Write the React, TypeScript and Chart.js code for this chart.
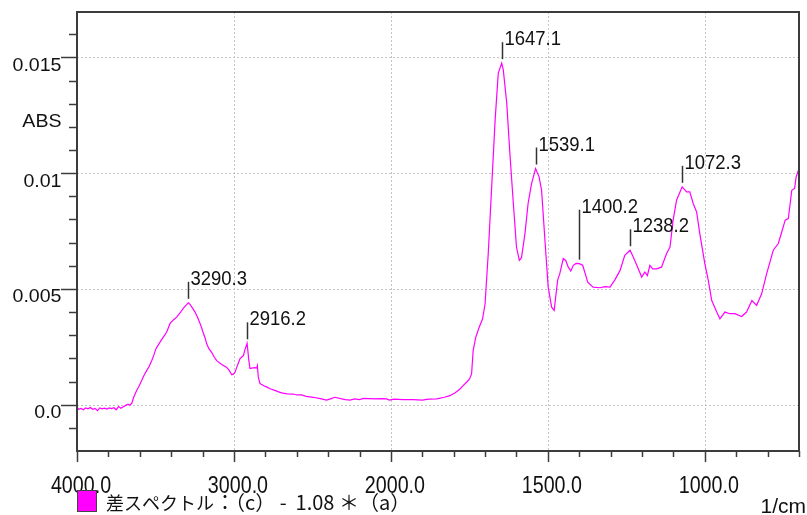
import React, { useEffect, useRef } from 'react';
import { Chart, registerables } from 'chart.js';

Chart.register(...registerables);

// ---- data (wavenumber in 1/cm, absorbance) ----
const WAVENUMBERS = [
  4000, 3990, 3975, 3960, 3945, 3930, 3915, 3900, 3885, 3870, 3855, 3840, 3825, 3810, 3795, 3780,
  3765, 3750, 3735, 3720, 3705, 3690, 3675, 3665, 3651, 3640, 3620, 3605, 3588, 3572, 3556, 3540,
  3524, 3510, 3497, 3484, 3471, 3450, 3429, 3407, 3386, 3365, 3345, 3323, 3305, 3290.3, 3280, 3265,
  3248, 3232, 3216, 3205, 3197, 3185, 3174, 3160, 3142, 3125, 3110, 3080, 3046, 3030, 3014, 3004,
  2993, 2975, 2961, 2950, 2940, 2930, 2916.2, 2905, 2898, 2880, 2866, 2855, 2851, 2845, 2834, 2810,
  2790, 2770, 2740, 2707, 2688, 2660, 2622, 2600, 2569, 2540, 2495, 2450, 2410, 2380, 2357, 2320,
  2290, 2261, 2230, 2200, 2176, 2140, 2100, 2060, 2027, 2010, 1990, 1960, 1929, 1900, 1880, 1854,
  1830, 1812, 1795, 1780, 1770, 1759, 1750, 1743, 1738, 1730, 1720, 1708, 1700, 1690, 1679, 1668,
  1658, 1647.1, 1642, 1631, 1621, 1610, 1600, 1591, 1584, 1573, 1563, 1552, 1539.1, 1528, 1520, 1510,
  1499, 1488, 1480, 1469, 1462, 1451, 1443, 1435, 1427, 1419, 1410, 1400.2, 1389, 1373, 1356, 1334,
  1318, 1302, 1286, 1270, 1255, 1238.2, 1228, 1212, 1201, 1191, 1183, 1175, 1166, 1154, 1138, 1122,
  1111, 1101, 1090, 1072.3, 1058, 1048, 1037, 1026, 1016, 1000, 989, 978, 962, 952, 936, 920,
  904, 883, 867, 850, 835, 819, 803, 782, 766, 755, 744, 734, 723, 714, 709, 700,
];
const ABSORBANCE = [
  -0.0001, -0.0002, -0.00016, -0.00022, -0.00014, -0.00018, -0.00012, -0.0002, -0.00016, -0.00026, -0.00014, -0.00018, -0.00015, -0.00019, -0.00014, -0.00017,
  -0.00013, -0.00022, -0.00008, -0.00015, -0.00009, -0.00003, 0.00002, -0.00002, 0.00006, 0.0003, 0.00061, 0.0008, 0.00104, 0.00128, 0.00147, 0.00166,
  0.0019, 0.00215, 0.00242, 0.00256, 0.0027, 0.00292, 0.00313, 0.00351, 0.00366, 0.00378, 0.00395, 0.00416, 0.0043, 0.0044, 0.00433, 0.00418,
  0.004, 0.00378, 0.00351, 0.0033, 0.00313, 0.0029, 0.00264, 0.00242, 0.00226, 0.00205, 0.0019, 0.00175, 0.00161, 0.00148, 0.00129, 0.00132,
  0.0014, 0.00175, 0.00199, 0.00206, 0.00212, 0.00238, 0.00265, 0.0019, 0.00156, 0.00159, 0.0016, 0.00158, 0.00168, 0.0012, 0.00091, 0.00082,
  0.00076, 0.00069, 0.00062, 0.00053, 0.0005, 0.00047, 0.00046, 0.00042, 0.00042, 0.00036, 0.00032, 0.00026, 0.0002, 0.00026, 0.00032, 0.00026,
  0.00022, 0.0002, 0.00025, 0.00022, 0.00027, 0.00026, 0.00025, 0.00026, 0.00025, 0.0002, 0.00024, 0.00022, 0.00022, 0.0002, 0.00024, 0.00025,
  0.00032, 0.00039, 0.00052, 0.00068, 0.00082, 0.00097, 0.0011, 0.00133, 0.00234, 0.0029, 0.0033, 0.00371, 0.00436, 0.00652, 0.00941, 0.0123,
  0.01432, 0.01475, 0.01446, 0.01302, 0.01085, 0.00869, 0.00681, 0.00623, 0.00635, 0.00739, 0.00869, 0.00955, 0.0102, 0.00984, 0.00926, 0.00724,
  0.00508, 0.00421, 0.00407, 0.00537, 0.00566, 0.00631, 0.00623, 0.00594, 0.00577, 0.00602, 0.0061, 0.00609, 0.00602, 0.00529, 0.00508, 0.00505,
  0.0051, 0.00508, 0.0054, 0.0058, 0.00645, 0.00667, 0.00638, 0.00587, 0.00551, 0.00573, 0.00558, 0.00602, 0.00587, 0.00587, 0.00594, 0.00652,
  0.00681, 0.00797, 0.00883, 0.00941, 0.00919, 0.00919, 0.00869, 0.00832, 0.00739, 0.00609, 0.00537, 0.0045, 0.004, 0.00371, 0.004, 0.00393,
  0.00393, 0.00381, 0.004, 0.0045, 0.00429, 0.00479, 0.00566, 0.00667, 0.00696, 0.00746, 0.00797, 0.00804, 0.00926, 0.00934, 0.00984, 0.0102,
];

const PEAKS = [3290.3, 2916.2, 1647.1, 1539.1, 1400.2, 1238.2, 1072.3];
const PEAK_LABELS = ['3290.3', '2916.2', '1647.1', '1539.1', '1400.2', '1238.2', '1072.3'];

const X_MAJOR = [4000, 3000, 2000, 1500, 1000];
const X_MAJOR_LABELS = ['4000.0', '3000.0', '2000.0', '1500.0', '1000.0'];
const X_MINOR = [3800, 3600, 3400, 3200, 2800, 2600, 2400, 2200, 1900, 1800, 1700, 1600, 1400, 1300, 1200, 1100, 900, 800, 700];
const Y_MAJOR = [0, 0.005, 0.01, 0.015];
const Y_MAJOR_LABELS = ['0.0', '0.005', '0.01', '0.015'];
const Y_MINOR = [-0.001, 0.001, 0.002, 0.003, 0.004, 0.006, 0.007, 0.008, 0.009, 0.011, 0.012, 0.013, 0.014, 0.016];
const Y_TITLE = 'ABS';
const Y_TITLE_AT = 0.012;
const SERIES_HEAD = '差スペクトル';
const SERIES_TAIL = '：（c） -  1.08 ＊（a）';
const SERIES_NAME = SERIES_HEAD + SERIES_TAIL;
const X_UNIT = '1/cm';

// axis range (wavenumber), the region above 2000 1/cm is compressed 2:1
const X_FROM = 4000;
const X_TO = 700;
const Y_MIN = -0.002;
const Y_MAX = 0.01696;

const toAxis = (w: number) => (w > 2000 ? 2000 + (w - 2000) / 2 : w);

const LINE_COLOR = '#ff00ff';
const AXIS_COLOR = '#3c3c3c';
const GRID_COLOR = '#c4c4c4';
const TEXT_COLOR = '#111111';
const SANS = '"Liberation Sans", Arial, sans-serif';
const CJK = '"Noto Sans CJK JP", "Noto Sans", sans-serif';

function scaledText(ctx: CanvasRenderingContext2D, text: string, x: number, y: number, font: string, sx: number, align: CanvasTextAlign) {
  ctx.save();
  ctx.font = font;
  ctx.textAlign = align;
  ctx.textBaseline = 'alphabetic';
  ctx.translate(x, y);
  ctx.scale(sx, 1);
  ctx.fillText(text, 0, 0);
  ctx.restore();
}

const decorPlugin = {
  id: 'irDecor',
  beforeDatasetsDraw(chart: any) {
    const { ctx, chartArea: a, scales } = chart;
    const xs = scales.x;
    const ys = scales.y;
    ctx.save();
    ctx.strokeStyle = GRID_COLOR;
    ctx.lineWidth = 1;
    ctx.setLineDash([2, 2]);
    for (const w of X_MAJOR) {
      const px = Math.round(xs.getPixelForValue(toAxis(w))) + 0.5;
      if (px <= a.left + 3 || px >= a.right - 3) continue;
      ctx.beginPath();
      ctx.moveTo(px, a.top);
      ctx.lineTo(px, a.bottom);
      ctx.stroke();
    }
    for (const v of Y_MAJOR) {
      const py = Math.round(ys.getPixelForValue(v)) + 0.5;
      ctx.beginPath();
      ctx.moveTo(a.left, py);
      ctx.lineTo(a.right, py);
      ctx.stroke();
    }
    ctx.restore();
  },
  afterDatasetsDraw(chart: any) {
    const { ctx, chartArea: a, scales } = chart;
    const xs = scales.x;
    const ys = scales.y;
    ctx.save();
    // frame
    ctx.strokeStyle = AXIS_COLOR;
    ctx.lineWidth = 2;
    ctx.strokeRect(a.left, a.top, a.right - a.left, a.bottom - a.top);

    // ticks
    ctx.lineWidth = 1.5;
    const tickY = (v: number, len: number) => {
      const py = Math.round(ys.getPixelForValue(v)) + 0.5;
      ctx.beginPath();
      ctx.moveTo(a.left - len, py);
      ctx.lineTo(a.left, py);
      ctx.stroke();
    };
    const tickX = (w: number, len: number) => {
      const px = Math.round(xs.getPixelForValue(toAxis(w))) + 0.5;
      ctx.beginPath();
      ctx.moveTo(px, a.bottom);
      ctx.lineTo(px, a.bottom + len);
      ctx.stroke();
    };
    Y_MAJOR.forEach((v) => tickY(v, 16));
    Y_MINOR.forEach((v) => tickY(v, 8));
    X_MAJOR.forEach((w) => tickX(w, 11));
    X_MINOR.forEach((w) => tickX(w, 6));

    // tick labels
    ctx.fillStyle = TEXT_COLOR;
    Y_MAJOR.forEach((v, i) => {
      const py = ys.getPixelForValue(v);
      scaledText(ctx, Y_MAJOR_LABELS[i], a.left - 15.5, py + 13.5, `19px ${SANS}`, 1.03, 'right');
    });
    scaledText(ctx, Y_TITLE, a.left - 15.5, ys.getPixelForValue(Y_TITLE_AT), `19px ${SANS}`, 1.03, 'right');
    X_MAJOR.forEach((w, i) => {
      const px = xs.getPixelForValue(toAxis(w));
      scaledText(ctx, X_MAJOR_LABELS[i], px + 4, a.bottom + 41.5, `24px ${SANS}`, 0.82, 'center');
    });

    // peak annotations
    ctx.strokeStyle = '#333333';
    ctx.lineWidth = 1.5;
    PEAKS.forEach((w, i) => {
      const idx = WAVENUMBERS.indexOf(w);
      const px = Math.round(xs.getPixelForValue(toAxis(w))) + 0.5;
      const py = ys.getPixelForValue(ABSORBANCE[idx]);
      const bottom = py - 4;
      const top = bottom - (PEAK_LABELS[i] === '1400.2' ? 50 : 17);
      ctx.beginPath();
      ctx.moveTo(px, bottom);
      ctx.lineTo(px, top);
      ctx.stroke();
      scaledText(ctx, PEAK_LABELS[i], px + 2, top + 3, `21px ${SANS}`, 0.88, 'left');
    });

    // legend
    const lx = a.left + 0.5;
    const ly = a.bottom + 39.5;
    ctx.fillStyle = LINE_COLOR;
    ctx.fillRect(lx, ly, 19, 21);
    ctx.strokeStyle = '#444444';
    ctx.lineWidth = 1;
    ctx.strokeRect(lx, ly, 19, 21);
    ctx.fillStyle = TEXT_COLOR;
    ctx.textAlign = 'left';
    ctx.textBaseline = 'alphabetic';
    const tx = a.left + 29;
    const tyBase = a.bottom + 59;
    ctx.font = `18px ${CJK}`;
    ctx.fillText(SERIES_HEAD, tx, tyBase);
    const headW = ctx.measureText(SERIES_HEAD).width;
    ctx.font = `20px ${CJK}`;
    ctx.fillText(SERIES_TAIL, tx + headW + 1, tyBase);

    // unit
    scaledText(ctx, X_UNIT, chart.width - 1, a.bottom + 62, `21px ${SANS}`, 1.0, 'right');
    ctx.restore();
  },
};

export default function App() {
  const ref = useRef<HTMLCanvasElement>(null);
  useEffect(() => {
    const points = WAVENUMBERS.map((w, i) => ({ x: toAxis(w), y: ABSORBANCE[i] }));
    const chart = new Chart(ref.current as HTMLCanvasElement, {
      type: 'line',
      data: {
        datasets: [
          {
            label: SERIES_NAME,
            data: points,
            borderColor: LINE_COLOR,
            borderWidth: 1.2,
            pointRadius: 0,
            tension: 0,
            fill: false,
          },
        ],
      },
      options: {
        animation: false,
        responsive: false,
        events: [],
        layout: { padding: { left: 77, top: 12, right: 8, bottom: 64 } },
        plugins: { legend: { display: false }, tooltip: { enabled: false } },
        scales: {
          x: { type: 'linear', display: false, reverse: true, min: toAxis(X_TO), max: toAxis(X_FROM) },
          y: { type: 'linear', display: false, min: Y_MIN, max: Y_MAX },
        },
      },
      plugins: [decorPlugin],
    } as any);
    return () => chart.destroy();
  }, []);
  return (
    <div style={{ position: 'fixed', left: 0, top: 0, width: 807, height: 515, background: '#ffffff' }}>
      <canvas ref={ref} width={807} height={515} style={{ display: 'block' }} />
    </div>
  );
}
